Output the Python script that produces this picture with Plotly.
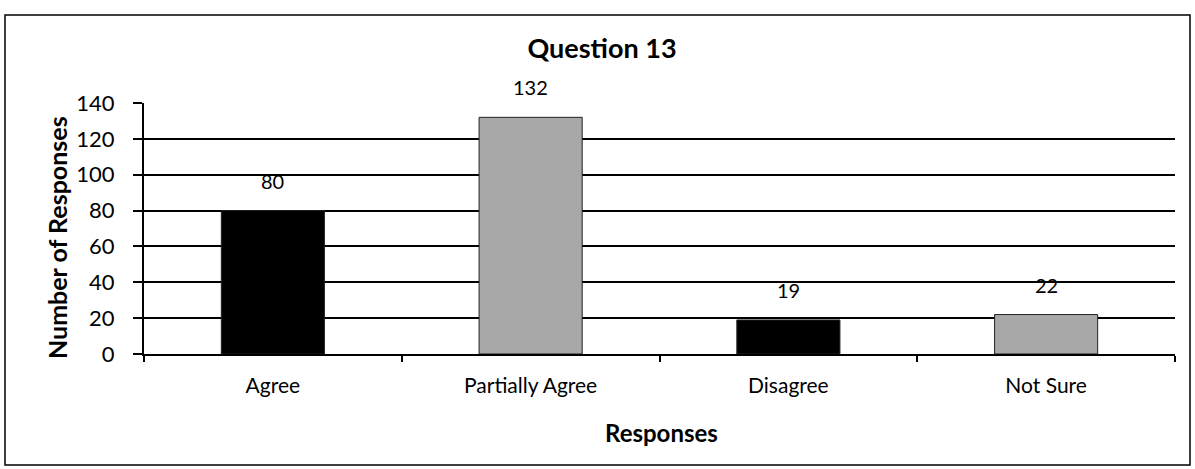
import plotly.graph_objects as go

categories = ["Agree", "Partially Agree", "Disagree", "Not Sure"]
values = [80, 132, 19, 22]
bar_colors = ["#000000", "#a8a8a8", "#000000", "#a8a8a8"]
y_ticks = [0, 20, 40, 60, 80, 100, 120, 140]

FONT = "Lato"
W, H = 1195, 469
L, R, T, B = 144, 20, 103, 115
pw, ph = W - L - R, H - T - B


def px_x(x):
    return (x - L) / pw


def px_y(y):
    return (H - B - y) / ph


fig = go.Figure(go.Bar(
    x=categories, y=values,
    marker=dict(color=bar_colors, line=dict(color="#222222", width=1)),
    width=0.4,
    hoverinfo="x+y",
))

annotations = [
    dict(x=c, y=v, xref="x", yref="y", text=str(v), showarrow=False,
         yanchor="bottom", yshift=16, font=dict(family=FONT, size=20, color="#000000"))
    for c, v in zip(categories, values)
]
annotations.append(dict(
    x=px_x(57), y=px_y(238), xref="paper", yref="paper", text="<b>Number of Responses</b>",
    textangle=-90, showarrow=False, xanchor="center", yanchor="middle",
    font=dict(family=FONT, size=25, color="#000000"),
))
annotations.append(dict(
    x=px_x(661), y=px_y(432), xref="paper", yref="paper", text="<b>Responses</b>",
    showarrow=False, xanchor="center", yanchor="middle",
    font=dict(family=FONT, size=24, color="#000000"),
))

fig.update_layout(
    width=W, height=H,
    margin=dict(l=L, r=R, t=T, b=B, autoexpand=False),
    paper_bgcolor="white", plot_bgcolor="white",
    showlegend=False,
    font=dict(family=FONT, color="#000000"),
    title=dict(text="<b>Question 13</b>", x=602 / W, xref="container", xanchor="center",
               y=1 - 49 / H, yref="container", yanchor="middle",
               font=dict(size=27, family=FONT, color="#000000")),
    xaxis=dict(
        showline=True, linecolor="#000000", linewidth=2,
        ticks="outside", tickson="boundaries", ticklen=6, tickwidth=1.5, tickcolor="#000000",
        tickfont=dict(size=21, family=FONT, color="#000000"),
        ticklabelstandoff=12,
        showgrid=False,
    ),
    yaxis=dict(
        range=[0, 140], tickvals=y_ticks,
        showgrid=True, gridcolor="#000000", gridwidth=1.5,
        showline=True, linecolor="#000000", linewidth=2,
        ticks="outside", ticklen=9, tickwidth=1.5, tickcolor="#000000",
        tickfont=dict(size=22, family=FONT, color="#000000"),
        ticklabelstandoff=14,
        zeroline=False,
    ),
    annotations=annotations,
    shapes=[dict(type="rect", xref="paper", yref="paper",
                 x0=px_x(5), x1=px_x(1190), y0=px_y(465), y1=px_y(15),
                 line=dict(color="#000000", width=1.5), fillcolor="rgba(0,0,0,0)",
                 layer="below")],
)

fig.write_html(
    "out.html",
    config={"displayModeBar": False},
    post_script="document.body.style.margin='0px';document.body.style.overflow='hidden';",
)
